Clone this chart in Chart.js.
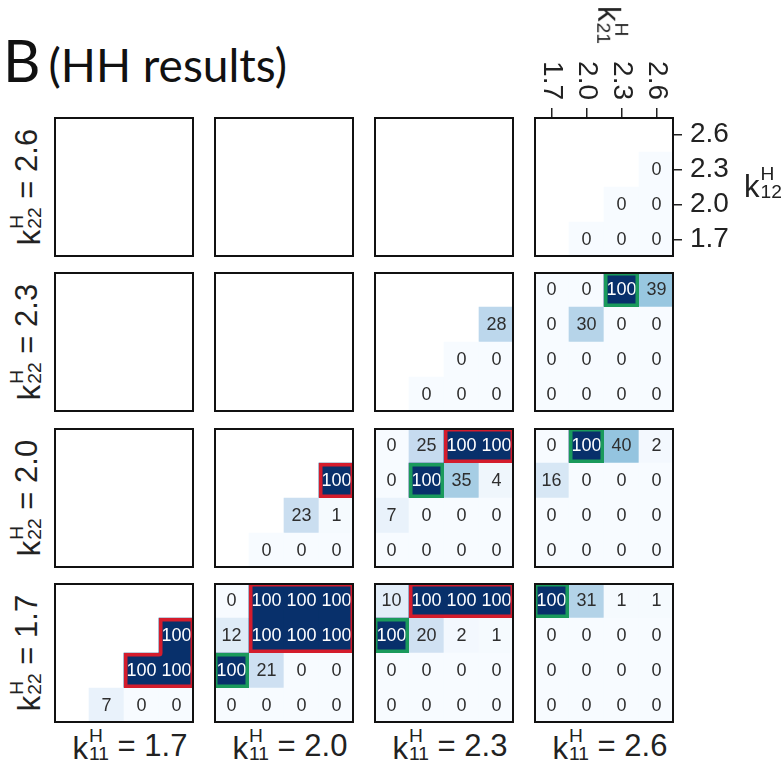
<!DOCTYPE html>
<html>
<head>
<meta charset="utf-8">
<script src="https://cdn.jsdelivr.net/npm/chart.js@4.4.1/dist/chart.umd.min.js"></script>
<style>
  html, body { margin: 0; padding: 0; background: #fff; }
  #fig { position: relative; width: 783px; height: 767px; overflow: hidden;
         font-family: "Liberation Sans", Arial, sans-serif; color: #222; }
  #fig canvas { position: absolute; }
  .lbl { position: absolute; white-space: nowrap; font-size: 31px; line-height: 1; }
  .lbl.flat { transform: translate(-50%, -50%); }
  .lbl.ccw { transform: translate(-50%, -50%) rotate(-90deg); }
  .lbl.cw { transform: translate(-50%, -50%) rotate(90deg); }
  .k { position: relative; top: 3px; }
  .ss { display: inline-block; font-size: 0.62em; line-height: 0.95; vertical-align: -0.2em; text-align: left; margin-left: 1px; }
  .ss span { display: block; }
  #title { position: absolute; left: 3px; top: 31px; font-family: Lato, sans-serif; font-size: 58px; line-height: 1; color: #111; }
  #title .rest { font-size: 46px; margin-left: 8px; }
</style>
</head>
<body>
<div id="fig">
  <div id="title">B<span class="rest">(HH results)</span></div>
</div>
<script>
// axis values
const k11Values = ['1.7', '2.0', '2.3', '2.6'];   // panel columns, left -> right
const k22Values = ['2.6', '2.3', '2.0', '1.7'];   // panel rows, top -> bottom
const k21Ticks = ['1.7', '2.0', '2.3', '2.6'];    // cell columns inside a panel
const k12Ticks = ['1.7', '2.0', '2.3', '2.6'];    // cell rows inside a panel, bottom -> top

// HH results (%). rows: k12 = 2.6, 2.3, 2.0, 1.7 ; cols: k21 = 1.7 .. 2.6
const _ = null;
const k22_26_k11_26 = [[_, _, _, _], [_, _, _, 0], [_, _, 0, 0], [_, 0, 0, 0]];
const k22_23_k11_23 = [[_, _, _, _], [_, _, _, 28], [_, _, 0, 0], [_, 0, 0, 0]];
const k22_23_k11_26 = [[0, 0, 100, 39], [0, 30, 0, 0], [0, 0, 0, 0], [0, 0, 0, 0]];
const k22_20_k11_20 = [[_, _, _, _], [_, _, _, 100], [_, _, 23, 1], [_, 0, 0, 0]];
const k22_20_k11_23 = [[0, 25, 100, 100], [0, 100, 35, 4], [7, 0, 0, 0], [0, 0, 0, 0]];
const k22_20_k11_26 = [[0, 100, 40, 2], [16, 0, 0, 0], [0, 0, 0, 0], [0, 0, 0, 0]];
const k22_17_k11_17 = [[_, _, _, _], [_, _, _, 100], [_, _, 100, 100], [_, 7, 0, 0]];
const k22_17_k11_20 = [[0, 100, 100, 100], [12, 100, 100, 100], [100, 21, 0, 0], [0, 0, 0, 0]];
const k22_17_k11_23 = [[10, 100, 100, 100], [100, 20, 2, 1], [0, 0, 0, 0], [0, 0, 0, 0]];
const k22_17_k11_26 = [[100, 31, 1, 1], [0, 0, 0, 0], [0, 0, 0, 0], [0, 0, 0, 0]];

const panels = [
  [_, _, _, k22_26_k11_26],
  [_, _, k22_23_k11_23, k22_23_k11_26],
  [_, k22_20_k11_20, k22_20_k11_23, k22_20_k11_26],
  [k22_17_k11_17, k22_17_k11_20, k22_17_k11_23, k22_17_k11_26],
];

// outlined cells [row, col] (same row/col order as the tables)
const redBoxes = [
  { k22: '1.7', k11: '1.7', cells: [[1, 3], [2, 2], [2, 3]] },
  { k22: '1.7', k11: '2.0', cells: [[0, 1], [0, 2], [0, 3], [1, 1], [1, 2], [1, 3]] },
  { k22: '1.7', k11: '2.3', cells: [[0, 1], [0, 2], [0, 3]] },
  { k22: '2.0', k11: '2.0', cells: [[1, 3]] },
  { k22: '2.0', k11: '2.3', cells: [[0, 2], [0, 3]] },
];
const greenBoxes = [
  { k22: '1.7', k11: '2.0', cells: [[2, 0]] },
  { k22: '1.7', k11: '2.3', cells: [[1, 0]] },
  { k22: '1.7', k11: '2.6', cells: [[0, 0]] },
  { k22: '2.0', k11: '2.3', cells: [[1, 1]] },
  { k22: '2.0', k11: '2.6', cells: [[0, 1]] },
  { k22: '2.3', k11: '2.6', cells: [[0, 2]] },
];

// layout
const panelLeft = [54, 214, 374, 534];
const panelTop = [117, 272, 428, 583];
const PANEL = 140;
const TOP_AXIS = 117, RIGHT_AXIS = 109;

// matplotlib "Blues"
const bluesStops = ['#f7fbff', '#deebf7', '#c6dbef', '#9ecae1', '#6baed6', '#4292c6', '#2171b5', '#08519c', '#08306b'];
function blues(t) {
  t = Math.max(0, Math.min(1, t));
  const p = t * (bluesStops.length - 1);
  const i = Math.min(Math.floor(p), bluesStops.length - 2);
  const f = p - i;
  const a = bluesStops[i], b = bluesStops[i + 1];
  const ch = (s, k) => parseInt(s.substr(1 + 2 * k, 2), 16);
  const c = [0, 1, 2].map(k => Math.round(ch(a, k) + (ch(b, k) - ch(a, k)) * f));
  return `rgb(${c[0]},${c[1]},${c[2]})`;
}

const panelPlugin = {
  id: 'panelDecor',
  afterDatasetsDraw(chart) {
    const ctx = chart.ctx;
    const xs = chart.scales.x, ys = chart.scales.y;
    const info = chart.options.plugins.panelDecor;
    ctx.save();
    ctx.font = '18px "Liberation Sans"';
    ctx.textAlign = 'center';
    ctx.textBaseline = 'middle';
    chart.data.datasets.forEach((ds, di) => {
      chart.getDatasetMeta(di).data.forEach((bar, ci) => {
        const v = ds.values[ci];
        if (v === null) return;
        ctx.fillStyle = v > 60 ? '#ffffff' : '#2e2e2e';
        ctx.fillText(String(v), bar.x, (bar.y + bar.base) / 2 + 1);
      });
    });
    const box = (row, col) => {
      const r = 3 - row;
      return {
        l: xs.getPixelForValue(col - 0.5), r: xs.getPixelForValue(col + 0.5),
        t: ys.getPixelForValue(r + 1), b: ys.getPixelForValue(r),
      };
    };
    const outline = (cells, color) => {
      const has = (r, c) => cells.some(([a, b]) => a === r && b === c);
      ctx.save();
      ctx.beginPath();
      cells.forEach(([row, col]) => { const b = box(row, col); ctx.rect(b.l, b.t, b.r - b.l, b.b - b.t); });
      ctx.clip();
      ctx.strokeStyle = color;
      ctx.lineWidth = 7;
      ctx.lineCap = 'round';
      ctx.beginPath();
      cells.forEach(([row, col]) => {
        const b = box(row, col);
        if (!has(row - 1, col)) { ctx.moveTo(b.l, b.t); ctx.lineTo(b.r, b.t); }
        if (!has(row + 1, col)) { ctx.moveTo(b.l, b.b); ctx.lineTo(b.r, b.b); }
        if (!has(row, col - 1)) { ctx.moveTo(b.l, b.t); ctx.lineTo(b.l, b.b); }
        if (!has(row, col + 1)) { ctx.moveTo(b.r, b.t); ctx.lineTo(b.r, b.b); }
      });
      ctx.stroke();
      ctx.restore();
    };
    info.red.forEach(c => outline(c, '#d41c2c'));
    info.green.forEach(c => outline(c, '#1a9a5c'));
    ctx.restore();
  },
  afterDraw(chart) {
    const ctx = chart.ctx;
    const a = chart.chartArea;
    ctx.save();
    ctx.strokeStyle = '#111';
    ctx.lineWidth = 2;
    ctx.strokeRect(a.left + 1, a.top + 1, a.right - a.left - 2, a.bottom - a.top - 2);
    if (chart.options.plugins.panelDecor.axes) {
      // k21 tick labels, rotated clockwise like the reference
      const xs = chart.scales.x;
      ctx.fillStyle = '#222';
      ctx.font = '28px "Liberation Sans"';
      ctx.textAlign = 'right';
      ctx.textBaseline = 'middle';
      k21Ticks.forEach((lab, i) => {
        ctx.save();
        ctx.translate(xs.getPixelForTick(i), a.top - 17);
        ctx.rotate(Math.PI / 2);
        ctx.fillText(lab, 0, 0);
        ctx.restore();
      });
    }
    ctx.restore();
  }
};

function makePanel(grid, i, j) {
  const k11 = k11Values[i], k22 = k22Values[j];
  const withAxes = (i === 3 && j === 0);
  const cells = grid || [[_, _, _, _], [_, _, _, _], [_, _, _, _], [_, _, _, _]];
  const canvas = document.createElement('canvas');
  const w = PANEL + (withAxes ? RIGHT_AXIS : 0);
  const h = PANEL + (withAxes ? TOP_AXIS : 0);
  canvas.width = w; canvas.height = h;
  canvas.style.width = w + 'px'; canvas.style.height = h + 'px';
  canvas.style.left = panelLeft[i] + 'px';
  canvas.style.top = (panelTop[j] - (withAxes ? TOP_AXIS : 0)) + 'px';
  document.getElementById('fig').appendChild(canvas);

  const datasets = k12Ticks.map((lab, r) => {
    const row = cells[3 - r];
    return {
      label: 'k12 = ' + lab,
      values: row,
      data: row.map(v => v === null ? null : [r, r + 1]),
      backgroundColor: row.map(v => v === null ? 'rgba(0,0,0,0)' : blues(v / 100)),
      borderWidth: 0,
      borderSkipped: false,
      barPercentage: 1,
      categoryPercentage: 1,
      grouped: false,
    };
  });
  const pick = list => list.filter(b => b.k11 === k11 && b.k22 === k22).map(b => b.cells);

  return new Chart(canvas.getContext('2d'), {
    type: 'bar',
    data: { labels: k21Ticks, datasets },
    options: {
      responsive: false,
      devicePixelRatio: 1,
      animation: false,
      events: [],
      layout: { padding: 0 },
      scales: {
        x: {
          type: 'category',
          offset: true,
          display: withAxes,
          position: 'top',
          grid: { offset: false, drawOnChartArea: false, tickLength: 9, color: '#222', lineWidth: 1.5 },
          border: { display: false },
          ticks: { display: false },
          afterFit: s => { s.height = withAxes ? TOP_AXIS : 0; s.paddingLeft = 0; s.paddingRight = 0; },
        },
        y: {
          type: 'linear',
          min: 0, max: 4,
          display: withAxes,
          position: 'right',
          grid: { drawOnChartArea: false, tickLength: 8, color: '#222', lineWidth: 1.5 },
          border: { display: false },
          ticks: {
            autoSkip: false,
            padding: 8,
            color: '#222',
            font: { family: 'Liberation Sans', size: 28 },
            callback: (v, idx) => k12Ticks[idx],
          },
          afterBuildTicks: s => { s.ticks = k12Ticks.map((_, r) => ({ value: r + 0.5 })); },
          afterFit: s => { s.width = withAxes ? RIGHT_AXIS : 0; s.paddingTop = 0; s.paddingBottom = 0; },
        },
      },
      plugins: {
        legend: { display: false },
        tooltip: { enabled: false },
        panelDecor: { red: pick(redBoxes), green: pick(greenBoxes), axes: withAxes },
      },
    },
    plugins: [panelPlugin],
  });
}

panels.forEach((row, j) => row.forEach((grid, i) => makePanel(grid, i, j)));

// outer labels
function kLabel(sub, value) {
  return `<span class="k">k</span><span class="ss"><span>H</span><span>${sub}</span></span>` +
    (value ? ` = ${value}` : '');
}
function addLabel(html, cls, x, y) {
  const d = document.createElement('div');
  d.className = 'lbl ' + cls;
  d.style.left = x + 'px';
  d.style.top = y + 'px';
  d.innerHTML = html;
  document.getElementById('fig').appendChild(d);
}
k11Values.forEach((v, i) => addLabel(kLabel('11', v), 'flat', panelLeft[i] + PANEL / 2 + 6, 745));
k22Values.forEach((v, j) => addLabel(kLabel('22', v), 'ccw', 26, panelTop[j] + PANEL / 2));
addLabel(kLabel('21', ''), 'cw', 612, 25);
addLabel(kLabel('12', ''), 'flat', 763, 183);
</script>
</body>
</html>
